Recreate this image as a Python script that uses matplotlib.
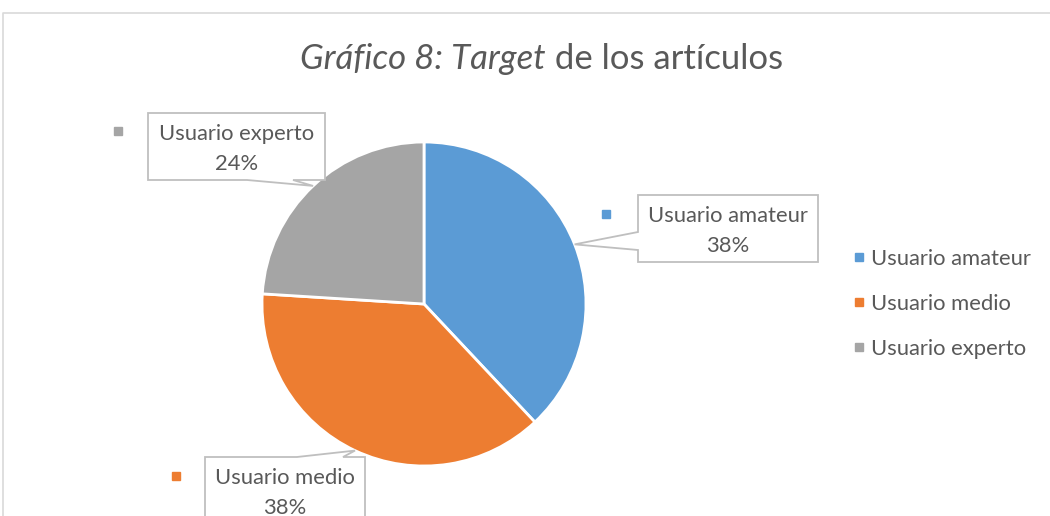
import matplotlib.pyplot as plt
from matplotlib.lines import Line2D
from matplotlib.patches import Polygon
import numpy as np

plt.rcParams["font.family"] = ["Lato", "DejaVu Sans"]

# data
categories = ["Usuario amateur", "Usuario medio", "Usuario experto"]
values = [38, 38, 24]
colors = ["#5B9BD5", "#ED7D31", "#A5A5A5"]

W, H = 1050, 516
TXT = "#595959"
BOX = "#BFBFBF"
FS = 15.8


def py(y):
    # pixel-from-top -> data y
    return H - y


fig = plt.figure(figsize=(W / 100, H / 100), dpi=100)
ax = fig.add_axes([0, 0, 1, 1])

center = (424, py(304))
radius = 162
wedges, _ = ax.pie(values, colors=colors, startangle=90, counterclock=False,
                   center=center, radius=radius,
                   wedgeprops=dict(edgecolor="white", linewidth=2))
ax.set_xlim(0, W)
ax.set_ylim(0, H)
ax.set_aspect("equal")
ax.axis("off")

# outer chart border
ax.plot([3, 3, W + 5], [-5, py(13), py(13)], color="#D9D9D9", lw=1.2, clip_on=False)

# title (italic part + normal part)
ax.text(546, py(59), "Gráfico 8: Target", style="italic", fontsize=25,
        color=TXT, ha="right", va="center")
ax.text(546, py(59), " de los artículos", fontsize=25, color=TXT,
        ha="left", va="center")

# callout layout: box (left, top, right, bottom) in px, pointer edge, base span, marker pos
layout = [
    dict(box=(638, 195, 818, 262), side="left", base=(232, 250), mk=(606, 214)),
    dict(box=(205, 457, 365, 530), side="top", base=(297, 343), mk=(176, 476)),
    dict(box=(148, 113, 325, 180), side="bottom", base=(247, 293), mk=(118, 131)),
]

for w, cat, v, c, lay in zip(wedges, categories, values, colors, layout):
    mid = np.deg2rad((w.theta1 + w.theta2) / 2)
    tip = (w.center[0] + w.r * np.cos(mid), w.center[1] + w.r * np.sin(mid))
    l, t, r, b = lay["box"]
    b0, b1 = lay["base"]
    if lay["side"] == "left":
        pts = [(l, py(t)), (r, py(t)), (r, py(b)), (l, py(b)), (l, py(b1)), tip, (l, py(b0))]
    elif lay["side"] == "top":
        pts = [(l, py(t)), (b0, py(t)), tip, (b1, py(t)), (r, py(t)), (r, py(b)), (l, py(b))]
    else:
        pts = [(l, py(t)), (r, py(t)), (r, py(b)), (b1, py(b)), tip, (b0, py(b)), (l, py(b))]
    ax.add_patch(Polygon(pts, closed=True, facecolor="white", edgecolor=BOX,
                         lw=1.3, clip_on=False, zorder=3))
    cx = (l + r) / 2
    ax.text(cx, py(t + 21), cat, fontsize=FS, color=TXT, ha="center",
            va="center", zorder=4)
    ax.text(cx, py(t + 51), f"{v}%", fontsize=FS, color=TXT, ha="center",
            va="center", zorder=4)
    ax.plot(lay["mk"][0], py(lay["mk"][1]), marker="s", ms=6, color=c, ls="")

# legend
handles = [Line2D([], [], marker="s", ls="", color=c, ms=6) for c in colors]
leg = ax.legend(handles, categories, loc="center left",
                bbox_to_anchor=(834 / W, 1 - 304 / H), frameon=False,
                fontsize=FS, labelcolor=TXT, handlelength=0.45,
                handletextpad=0.35, labelspacing=1.14)

fig.savefig("out.png", dpi=100)
